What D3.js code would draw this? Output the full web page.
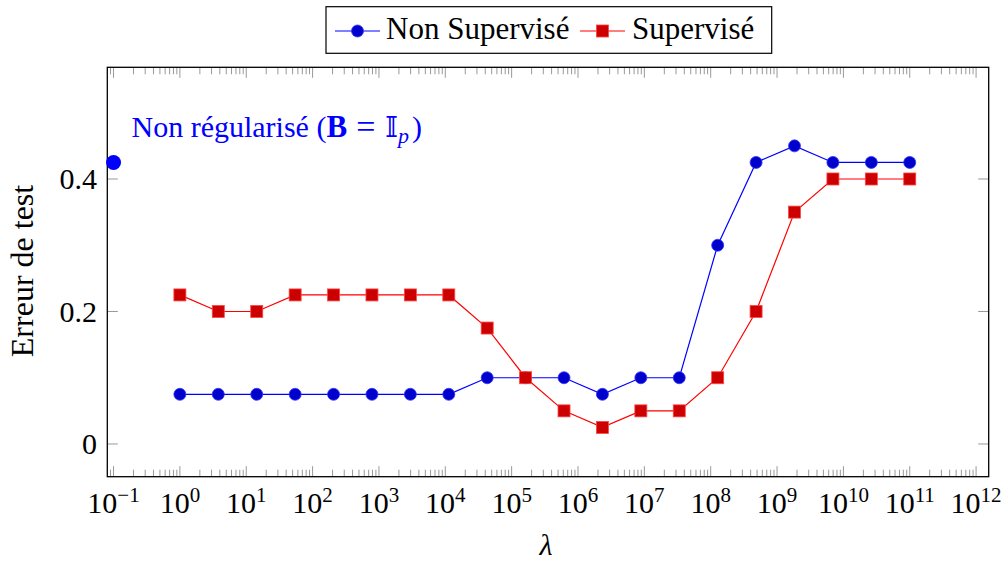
<!DOCTYPE html>
<html>
<head>
<meta charset="utf-8">
<script src="https://cdn.jsdelivr.net/npm/d3@7.9.0/dist/d3.min.js"></script>
<style>
  html, body { margin: 0; padding: 0; background: #fff; }
  svg { display: block; font-family: 'Liberation Serif', 'Times New Roman', serif; }
</style>
</head>
<body>
<svg id="chart" width="1003" height="561"></svg>
<script>
// lambda values (log-spaced, 1 .. 1e11)
const lambdas = [1, 3.79, 14.4, 54.6, 207, 785, 2976, 11288, 42813, 162378,
  615848, 2335721, 8858668, 33598183, 127427499, 483293024, 1832980710,
  6951927962, 26366508987, 1e11];
const nonSupervise = [0.075, 0.075, 0.075, 0.075, 0.075, 0.075, 0.075, 0.075, 0.1, 0.1,
  0.1, 0.075, 0.1, 0.1, 0.3, 0.425, 0.45, 0.425, 0.425, 0.425];
const supervise = [0.225, 0.2, 0.2, 0.225, 0.225, 0.225, 0.225, 0.225, 0.175, 0.1,
  0.05, 0.025, 0.05, 0.05, 0.1, 0.2, 0.35, 0.4, 0.4, 0.4];
const nonRegularise = { lambda: 0.1, value: 0.425 };
const xTickExps = [-1, 0, 1, 2, 3, 4, 5, 6, 7, 8, 9, 10, 11, 12];
const yTicks = [0, 0.2, 0.4];

const svg = d3.select('#chart');
const box = { left: 107.3, right: 988.7, top: 67.3, bottom: 476.7 };

const x = d3.scaleLog()
  .domain([Math.pow(10, -1.094), Math.pow(10, 12.19)])
  .range([box.left, box.right]);
const y = d3.scaleLinear()
  .domain([-0.0494, 0.5686])
  .range([box.bottom, box.top]);

const tickColor = '#999';

// minor ticks
const minor = [];
for (let e = -2; e <= 12; e++) {
  for (let m = 2; m <= 9; m++) {
    const v = m * Math.pow(10, e);
    if (v >= x.domain()[0] && v <= x.domain()[1]) minor.push(v);
  }
}
const ticks = svg.append('g').attr('stroke', tickColor).attr('stroke-width', 1);
minor.forEach(v => {
  const px = x(v);
  ticks.append('line').attr('x1', px).attr('x2', px).attr('y1', box.bottom).attr('y2', box.bottom - 7);
  ticks.append('line').attr('x1', px).attr('x2', px).attr('y1', box.top).attr('y2', box.top + 7);
});
xTickExps.forEach(e => {
  const px = x(Math.pow(10, e));
  ticks.append('line').attr('x1', px).attr('x2', px).attr('y1', box.bottom).attr('y2', box.bottom - 10.5);
  ticks.append('line').attr('x1', px).attr('x2', px).attr('y1', box.top).attr('y2', box.top + 10.5);
});
yTicks.forEach(v => {
  const py = y(v);
  ticks.append('line').attr('x1', box.left).attr('x2', box.left + 10.5).attr('y1', py).attr('y2', py);
  ticks.append('line').attr('x1', box.right).attr('x2', box.right - 10.5).attr('y1', py).attr('y2', py);
});

// frame
svg.append('rect')
  .attr('x', box.left).attr('y', box.top)
  .attr('width', box.right - box.left).attr('height', box.bottom - box.top)
  .attr('fill', 'none').attr('stroke', '#000').attr('stroke-width', 1.3);

// x tick labels
xTickExps.forEach(e => {
  const t = svg.append('text')
    .attr('x', x(Math.pow(10, e)))
    .attr('y', 513)
    .attr('text-anchor', 'middle')
    .attr('font-size', 30);
  t.append('tspan').text('10');
  t.append('tspan').attr('font-size', 21).attr('dy', -11)
    .text(e < 0 ? '\u2212' + Math.abs(e) : String(e));
});

// y tick labels
yTicks.forEach(v => {
  svg.append('text')
    .attr('x', 97)
    .attr('y', y(v) + 10.5)
    .attr('text-anchor', 'end')
    .attr('font-size', 30)
    .text(v === 0 ? '0' : d3.format('.1f')(v));
});

// axis labels
svg.append('text')
  .attr('transform', 'translate(33,271) rotate(-90)')
  .attr('text-anchor', 'middle')
  .attr('font-size', 32)
  .text('Erreur de test');
svg.append('text')
  .attr('x', 546).attr('y', 555)
  .attr('text-anchor', 'middle')
  .attr('font-size', 30)
  .attr('font-style', 'italic')
  .text('λ');

// series
const line = d3.line().x(d => x(d[0])).y(d => y(d[1]));
const blueData = lambdas.map((l, i) => [l, nonSupervise[i]]);
const redData = lambdas.map((l, i) => [l, supervise[i]]);

svg.append('path').datum(blueData)
  .attr('d', line).attr('fill', 'none').attr('stroke', '#0000ff').attr('stroke-width', 1.2);
svg.append('path').datum(redData)
  .attr('d', line).attr('fill', 'none').attr('stroke', '#ff0000').attr('stroke-width', 1.2);

svg.append('g').selectAll('circle').data(blueData).join('circle')
  .attr('cx', d => x(d[0])).attr('cy', d => y(d[1])).attr('r', 6)
  .attr('fill', '#0000cc').attr('stroke', '#3333ff').attr('stroke-width', 0.8);

const sq = 12;
svg.append('g').selectAll('rect').data(redData).join('rect')
  .attr('x', d => x(d[0]) - sq / 2).attr('y', d => y(d[1]) - sq / 2)
  .attr('width', sq).attr('height', sq)
  .attr('fill', '#cc0000').attr('stroke', '#ff4444').attr('stroke-width', 0.8);

// non regularised point
svg.append('circle')
  .attr('cx', x(nonRegularise.lambda)).attr('cy', y(nonRegularise.value))
  .attr('r', 7.5).attr('fill', '#0000ff');

const ann = svg.append('text')
  .attr('x', 131.5).attr('y', 137)
  .attr('font-size', 30)
  .attr('fill', '#0000ff');
ann.append('tspan').text('Non régularisé (');
ann.append('tspan').attr('font-weight', 'bold').attr('font-size', 31).text('B');
ann.append('tspan').attr('dx', 9).attr('font-size', 34).attr('dy', 1).text('=');
ann.append('tspan').attr('dx', 10).attr('dy', -1).attr('font-family', 'DejaVu Serif, DejaVu Sans').attr('font-size', 27).text('𝕀');
ann.append('tspan').attr('font-style', 'italic').attr('font-size', 22).attr('dy', 6).text('p');
ann.append('tspan').attr('dx', 3).attr('dy', -6).text(')');

// legend
const lg = svg.append('g');
lg.append('rect')
  .attr('x', 326).attr('y', 6.7).attr('width', 445.7).attr('height', 46.6)
  .attr('fill', '#fff').attr('stroke', '#000').attr('stroke-width', 1.2);
const ly = 31;
lg.append('line').attr('x1', 335).attr('x2', 380).attr('y1', ly).attr('y2', ly)
  .attr('stroke', '#0000ff').attr('stroke-width', 1.2);
lg.append('circle').attr('cx', 357.5).attr('cy', ly).attr('r', 6)
  .attr('fill', '#0000cc').attr('stroke', '#3333ff').attr('stroke-width', 0.8);
lg.append('text').attr('x', 386).attr('y', 39).attr('font-size', 31).text('Non Supervisé');
lg.append('line').attr('x1', 580).attr('x2', 625).attr('y1', ly).attr('y2', ly)
  .attr('stroke', '#ff0000').attr('stroke-width', 1.2);
lg.append('rect').attr('x', 602.5 - sq / 2).attr('y', ly - sq / 2).attr('width', sq).attr('height', sq)
  .attr('fill', '#cc0000').attr('stroke', '#ff4444').attr('stroke-width', 0.8);
lg.append('text').attr('x', 632).attr('y', 39).attr('font-size', 31).text('Supervisé');
</script>
</body>
</html>
